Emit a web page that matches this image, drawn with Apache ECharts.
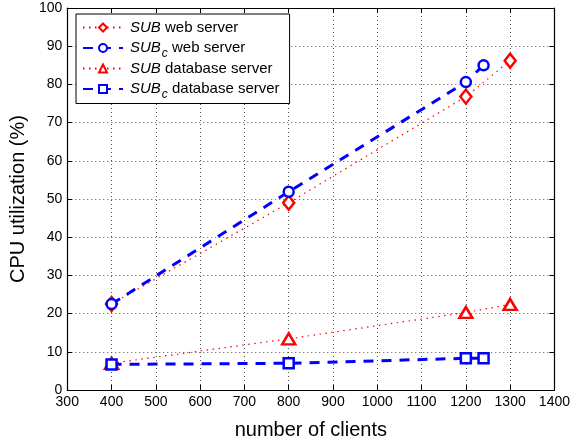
<!DOCTYPE html>
<html>
<head>
<meta charset="utf-8">
<script src="https://cdn.jsdelivr.net/npm/echarts@6/dist/echarts.min.js"></script>
<style>
  html, body { margin: 0; padding: 0; background: #fff; }
  #chart { width: 573px; height: 445px; }
</style>
</head>
<body>
<div id="chart"></div>
<script>
// Client counts and measured CPU utilization (%)
const clientsSub = [400, 800, 1200, 1300];
const clientsSubC = [400, 800, 1200, 1240];
const subWeb = [22.5, 49, 76.8, 86.2];
const subCWeb = [22.5, 51.9, 80.6, 85];
const subDb = [7, 13.4, 20.3, 22.4];
const subCDb = [6.7, 7, 8.3, 8.3];

const xTicks = { min: 300, max: 1400, interval: 100 };
const yTicks = { min: 0, max: 100, interval: 10 };

const seriesNames = ['SUB web', 'SUBc web', 'SUB db', 'SUBc db'];
const legendLabels = {
  'SUB web': '{i|SUB} web server',
  'SUBc web': '{i|SUB}{s|c} web server',
  'SUB db': '{i|SUB} database server',
  'SUBc db': '{i|SUB}{s|c} database server'
};

const RED = '#ff0000';
const BLUE = '#0000ff';
const FONT = 'Liberation Sans, Arial, Helvetica, sans-serif';

function pairs(xs, ys) { return xs.map((x, i) => [x, ys[i]]); }

const chart = echarts.init(document.getElementById('chart'), null, { renderer: 'canvas' });

const gridLine = { show: true, lineStyle: { color: '#555', type: [1, 3], width: 1 } };
const frameLine = { show: true, onZero: false, lineStyle: { color: '#000', width: 1.2 } };
const innerTick = { show: true, inside: true, length: 5, lineStyle: { color: '#000' } };

chart.setOption({
  animation: false,
  textStyle: { fontFamily: FONT },
  grid: { left: 65, right: 17, top: 8, bottom: 50, containLabel: false },
  legend: {
    data: seriesNames,
    orient: 'vertical',
    left: 76,
    top: 14,
    backgroundColor: '#fff',
    borderColor: '#000',
    borderWidth: 1,
    borderRadius: 0,
    padding: [6, 10, 3, 6],
    itemGap: 1.5,
    itemWidth: 40,
    itemHeight: 10,
    formatter: name => legendLabels[name],
    textStyle: {
      fontSize: 15,
      color: '#000',
      fontFamily: FONT,
      padding: [0, 0, 0, 2],
      rich: {
        i: { fontStyle: 'italic', fontSize: 15, fontFamily: FONT, color: '#000', lineHeight: 21 },
        s: { fontStyle: 'italic', fontSize: 12, fontFamily: FONT, color: '#000', padding: [11, 0, 0, 1], lineHeight: 21 }
      }
    }
  },
  xAxis: [{
    type: 'value',
    min: xTicks.min, max: xTicks.max, interval: xTicks.interval,
    name: 'number of clients',
    nameLocation: 'middle',
    nameGap: 30,
    nameTextStyle: { fontSize: 20, color: '#000', fontFamily: FONT },
    axisLine: frameLine,
    axisTick: innerTick,
    axisLabel: { fontSize: 14, color: '#000', margin: 5, fontFamily: FONT, formatter: v => String(v) },
    splitLine: gridLine
  }, {
    type: 'value', position: 'top',
    min: xTicks.min, max: xTicks.max, interval: xTicks.interval,
    axisLine: frameLine,
    axisTick: innerTick,
    axisLabel: { show: false },
    splitLine: { show: false }
  }],
  yAxis: [{
    type: 'value',
    min: yTicks.min, max: yTicks.max, interval: yTicks.interval,
    name: 'CPU utilization (%)',
    nameLocation: 'middle',
    nameGap: 37,
    nameTextStyle: { fontSize: 20, color: '#000', fontFamily: FONT },
    axisLine: frameLine,
    axisTick: innerTick,
    axisLabel: { fontSize: 14, color: '#000', margin: 5, fontFamily: FONT },
    splitLine: gridLine
  }, {
    type: 'value', position: 'right',
    min: yTicks.min, max: yTicks.max, interval: yTicks.interval,
    axisLine: frameLine,
    axisTick: innerTick,
    axisLabel: { show: false },
    splitLine: { show: false }
  }],
  series: [
    {
      name: 'SUB web', type: 'line', data: pairs(clientsSub, subWeb),
      symbol: 'diamond', symbolSize: [11, 14], showAllSymbol: true,
      lineStyle: { color: RED, width: 1.2, type: [1.5, 4.5] },
      itemStyle: { color: '#fff', borderColor: RED, borderWidth: 2.5 },
      color: RED
    },
    {
      name: 'SUBc web', type: 'line', data: pairs(clientsSubC, subCWeb),
      symbol: 'circle', symbolSize: 10, showAllSymbol: true,
      lineStyle: { color: BLUE, width: 3, type: [10, 8] },
      itemStyle: { color: '#fff', borderColor: BLUE, borderWidth: 2.5 },
      color: BLUE
    },
    {
      name: 'SUB db', type: 'line', data: pairs(clientsSub, subDb),
      symbol: 'triangle', symbolSize: [13, 11], showAllSymbol: true,
      lineStyle: { color: RED, width: 1.2, type: [1.5, 4.5] },
      itemStyle: { color: '#fff', borderColor: RED, borderWidth: 2.5 },
      color: RED
    },
    {
      name: 'SUBc db', type: 'line', data: pairs(clientsSubC, subCDb),
      symbol: 'rect', symbolSize: 10, showAllSymbol: true,
      lineStyle: { color: BLUE, width: 3, type: [10, 8] },
      itemStyle: { color: '#fff', borderColor: BLUE, borderWidth: 2.5 },
      color: BLUE
    }
  ]
});
</script>
</body>
</html>
